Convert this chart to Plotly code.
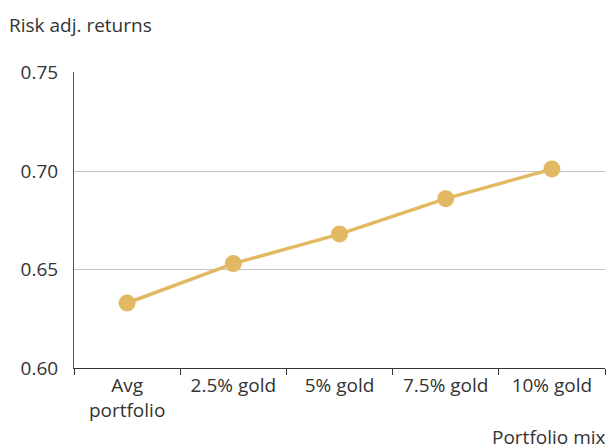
import plotly.graph_objects as go

categories = ["Avg<br>portfolio", "2.5% gold", "5% gold", "7.5% gold", "10% gold"]
risk_adj_returns = [0.633, 0.653, 0.668, 0.686, 0.701]
y_ticks = [0.60, 0.65, 0.70, 0.75]
y_tick_labels = ["0.60", "0.65", "0.70", "0.75"]

GOLD = "#E2B862"
FONT = "Open Sans"
TXT = "#333333"
FS = 19

fig = go.Figure()
fig.add_trace(go.Scatter(
    x=categories, y=risk_adj_returns, mode="lines+markers",
    line=dict(color=GOLD, width=3.5),
    marker=dict(color=GOLD, size=17),
    showlegend=False, cliponaxis=False,
))

fig.update_layout(
    width=606, height=447,
    margin=dict(l=74, r=1, t=72, b=79),
    plot_bgcolor="white", paper_bgcolor="white",
    font=dict(family=FONT, size=FS, color=TXT),
    xaxis=dict(
        type="category", tickson="boundaries", ticks="outside", ticklen=6,
        tickcolor="#333333", tickwidth=1, automargin=False,
        showline=True, linecolor="#333333", linewidth=1,
        showgrid=False, tickfont=dict(size=FS, color=TXT),
        range=[-0.5, 4.5],
    ),
    yaxis=dict(
        range=[0.60, 0.7503], tickvals=y_ticks, ticktext=y_tick_labels,
        showgrid=True, gridcolor="#c4c4c4", gridwidth=1, automargin=False,
        showline=True, linecolor="#555555", linewidth=1,
        ticks="", zeroline=False, tickfont=dict(size=FS, color=TXT),
        ticklabelstandoff=11,
    ),
    annotations=[
        dict(text="Risk adj. returns", xref="paper", yref="paper",
             x=-67/531, y=1 + 47/296, xanchor="left", yanchor="middle",
             showarrow=False, font=dict(size=FS, color=TXT, family=FONT)),
        dict(text="Portfolio mix", xref="paper", yref="paper",
             x=1 + 3/531, y=-69/296, xanchor="right", yanchor="middle",
             showarrow=False, font=dict(size=FS, color=TXT, family=FONT)),
    ],
)

fig.write_html(
    "out.html",
    config={"displayModeBar": False},
    post_script="document.body.style.margin='0';document.body.style.overflow='hidden';",
)
